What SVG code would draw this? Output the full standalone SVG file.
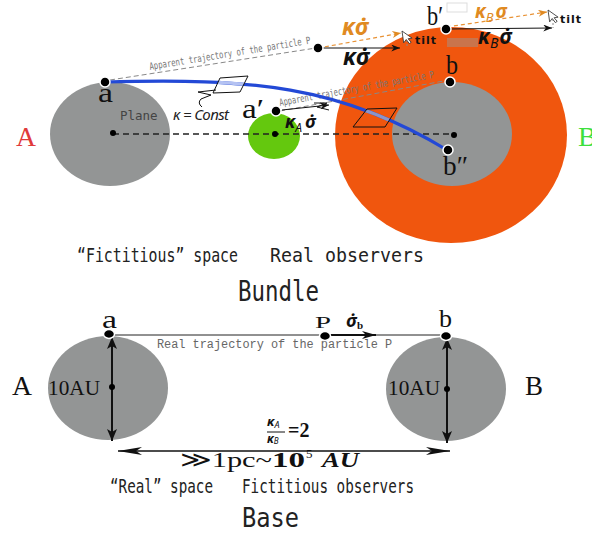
<svg xmlns="http://www.w3.org/2000/svg" width="592" height="535" viewBox="0 0 592 535">
<style>
.lbl{font-family:"Liberation Serif","DejaVu Serif",serif;fill:#111;}
.cap{font-family:"DejaVu Sans Mono","Liberation Mono",monospace;fill:#222;}
.math{font-family:"Noto Sans","DejaVu Sans",sans-serif;font-style:italic;font-weight:bold;fill:#111;}
.orange{fill:#e08a22;}
.dot{fill:#000;stroke:#fff;stroke-width:1.5;}
.cdot{fill:#000;}
.gray{fill:#939595;}
.app{font-family:"DejaVu Sans Mono","Liberation Mono",monospace;font-size:10px;fill:#777;}
.appline{stroke:#888;stroke-width:1;stroke-dasharray:5 3;fill:none;}
.odash{stroke:#e89235;stroke-width:1.2;stroke-dasharray:4 3;fill:none;}
.tiltv{stroke:#888;stroke-width:1;stroke-dasharray:2 2;}
.cursor{fill:#fff;stroke:#333;stroke-width:0.8;}
.tilt{font-family:"DejaVu Sans",sans-serif;font-weight:bold;font-size:11px;fill:#111;letter-spacing:1px;}
.thin{stroke:#111;stroke-width:1;fill:none;}
.para{fill:none;stroke:#111;stroke-width:1;}
</style>
<defs>
<marker id="ah" viewBox="0 0 10 8" refX="10" refY="4" markerWidth="10" markerHeight="7" markerUnits="userSpaceOnUse" orient="auto"><path d="M0,0 L10,4 L0,8 L3,4 z" fill="#111"/></marker>
<marker id="ahO" viewBox="0 0 10 8" refX="10" refY="4" markerWidth="10" markerHeight="7" markerUnits="userSpaceOnUse" orient="auto"><path d="M0,0 L10,4 L0,8 L3,4 z" fill="#e08a22"/></marker>
<marker id="big" viewBox="0 0 12 10" refX="12" refY="5" markerWidth="12" markerHeight="11" markerUnits="userSpaceOnUse" orient="auto-start-reverse"><path d="M0,0 L12,5 L0,10 L3,5 z" fill="#111"/></marker>
<marker id="mid" viewBox="0 0 14 8" refX="14" refY="4" markerWidth="15" markerHeight="8" markerUnits="userSpaceOnUse" orient="auto"><path d="M0,0 L14,4 L0,8 L4,4 z" fill="#111"/></marker>
<marker id="long" viewBox="0 0 24 8" refX="24" refY="4" markerWidth="24" markerHeight="8" markerUnits="userSpaceOnUse" orient="auto-start-reverse"><path d="M0,0 L24,4 L0,8 L6,4 z" fill="#111"/></marker>
<clipPath id="p1"><polygon points="220,78 248,76 240,92 213,93"/></clipPath>
<clipPath id="p2"><polygon points="367,109 397,108 385,127 353,127"/></clipPath>
</defs>

<!-- Bundle nodes -->
<g id="node-A-bundle">
<ellipse class="gray" cx="110" cy="134" rx="60" ry="52"/>
<text x="16" y="146" class="lbl" font-size="28" textLength="20" lengthAdjust="spacingAndGlyphs" style="fill:#e03a3a">A</text>
</g>
<g id="node-B-bundle">
<ellipse cx="451" cy="135" rx="116" ry="108" fill="#f0560e"/>
<ellipse class="gray" cx="452" cy="134" rx="60" ry="52"/>
<text x="578" y="146" class="lbl" font-size="28" style="fill:#3de03d">B</text>
</g>
<g id="node-observer">
<ellipse cx="274" cy="136" rx="26" ry="23" fill="#64c80e"/>
</g>

<!-- Base nodes -->
<g id="node-A-base">
<ellipse class="gray" cx="108" cy="388" rx="60" ry="52"/>
<text x="12" y="395" class="lbl" font-size="28" textLength="20" lengthAdjust="spacingAndGlyphs">A</text>
<text x="48" y="395" class="lbl" font-size="21" textLength="52" lengthAdjust="spacingAndGlyphs">10AU</text>
</g>
<g id="node-B-base">
<ellipse class="gray" cx="446" cy="389" rx="60" ry="52"/>
<text x="525" y="395" class="lbl" font-size="28" textLength="18" lengthAdjust="spacingAndGlyphs">B</text>
<text x="388" y="395" class="lbl" font-size="21" textLength="52" lengthAdjust="spacingAndGlyphs">10AU</text>
</g>

<!-- Connectors -->
<g id="connectors">
<line x1="113" y1="134" x2="455" y2="134" stroke="#222" stroke-width="1.3" stroke-dasharray="6 4"/>
<line class="appline" x1="110" y1="80" x2="316" y2="48"/>
<text class="app" transform="translate(150,70) rotate(-9.3)" textLength="163" lengthAdjust="spacingAndGlyphs">Apparent trajectory of the particle P</text>
<line class="appline" x1="280" y1="111" x2="449" y2="80"/>
<text class="app" transform="translate(280,106) rotate(-10.4)" textLength="157" lengthAdjust="spacingAndGlyphs">Apparent trajectory of the particle P</text>

<path d="M105,82 C250,78 340,85 447,150" fill="none" stroke="#2349d6" stroke-width="3.2"/>
<path d="M105,82 C250,78 340,85 447,150" fill="none" stroke="#b4c2f2" stroke-width="3.2" clip-path="url(#p1)"/>
<path d="M105,82 C250,78 340,85 447,150" fill="none" stroke="#8c95c8" stroke-width="3.2" clip-path="url(#p2)"/>
<polygon class="para" points="220,78 248,76 240,92 213,93"/>
<path class="thin" d="M216,90 L198,92 L211,95 L201,99 Q197,103 202,107"/>
<polygon class="para" points="367,109 397,108 385,127 353,127"/>

<line class="thin" x1="282" y1="110" x2="329" y2="105" marker-end="url(#ah)"/>
<path class="thin" d="M314,103 L327,103 L317,107 L329,110"/>

<line class="thin" x1="318" y1="48" x2="400" y2="48" marker-end="url(#ah)"/>
<line class="odash" x1="318" y1="48" x2="401" y2="33" marker-end="url(#ahO)"/>
<line class="tiltv" x1="407" y1="40" x2="407" y2="48"/>
<path class="cursor" transform="translate(402,31) rotate(-8)" d="M0,0 L0,12 L3,9 L5.5,13.5 L7.5,12.5 L5,8.5 L9,8.5 Z"/>
<text class="tilt" x="415" y="44">tilt</text>

<line class="thin" x1="447" y1="29" x2="552" y2="28" marker-end="url(#ah)"/>
<line class="odash" x1="447" y1="27" x2="547" y2="12" marker-end="url(#ahO)"/>
<line class="tiltv" x1="553" y1="19" x2="553" y2="28"/>
<path class="cursor" transform="translate(548,10) rotate(-8)" d="M0,0 L0,12 L3,9 L5.5,13.5 L7.5,12.5 L5,8.5 L9,8.5 Z"/>
<text class="tilt" x="560" y="23">tilt</text>
<rect x="447" y="3" width="20" height="9" fill="#fff" stroke="#ddd" stroke-width="1"/>
<rect x="447" y="38" width="31" height="9" fill="#999" opacity="0.45"/>

<!-- base connectors -->
<line x1="109" y1="335" x2="446" y2="335" stroke="#222" stroke-width="1"/>
<line x1="325" y1="335" x2="376" y2="335" stroke="#111" stroke-width="2" marker-end="url(#mid)"/>
<line x1="112" y1="337" x2="112" y2="441" stroke="#111" stroke-width="2" marker-start="url(#big)" marker-end="url(#big)"/>
<line x1="447" y1="338" x2="447" y2="443" stroke="#111" stroke-width="2" marker-start="url(#big)" marker-end="url(#big)"/>
<line x1="118" y1="451" x2="450" y2="451" stroke="#111" stroke-width="1.5" marker-start="url(#long)" marker-end="url(#long)"/>
<text x="157" y="348" font-family="Liberation Mono,monospace" font-size="12" fill="#666" textLength="235" lengthAdjust="spacingAndGlyphs">Real trajectory of the particle P</text>
</g>

<!-- points and labels (bundle) -->
<g id="pt-a">
<circle class="cdot" cx="113" cy="133" r="3"/>
<circle class="dot" cx="105" cy="82" r="5"/>
<text x="98" y="102" class="lbl" font-size="28" textLength="15" lengthAdjust="spacingAndGlyphs">a</text>
</g>
<g id="pt-a-prime">
<circle class="cdot" cx="275" cy="134" r="3"/>
<circle class="dot" cx="276" cy="111" r="5"/>
<text x="242" y="118" class="lbl" font-size="28" textLength="22" lengthAdjust="spacingAndGlyphs">a′</text>
</g>
<g id="pt-b">
<circle class="dot" cx="450" cy="82" r="5"/>
<text x="446" y="74" class="lbl" font-size="27" textLength="12" lengthAdjust="spacingAndGlyphs">b</text>
</g>
<g id="pt-b-prime">
<circle class="dot" cx="446" cy="29" r="5"/>
<text x="427" y="25" class="lbl" font-size="27" textLength="16" lengthAdjust="spacingAndGlyphs">b′</text>
</g>
<g id="pt-b-dprime">
<circle class="cdot" cx="454" cy="135" r="3"/>
<circle class="dot" cx="448" cy="150" r="5"/>
<text x="443" y="175" class="lbl" font-size="27" textLength="25" lengthAdjust="spacingAndGlyphs">b″</text>
</g>
<g id="pt-P-apparent">
<circle class="dot" cx="318" cy="48" r="5"/>
</g>

<g id="labels-bundle">
<text x="120" y="120" class="cap" font-size="12.5" style="fill:#444">Plane</text>
<text x="173" y="120" font-family="Noto Sans,DejaVu Sans,sans-serif" font-style="italic" font-size="15" fill="#222" textLength="56">κ = Const</text>
<text x="342" y="35" class="math orange" font-size="23">κσ̇</text>
<text x="343" y="65" class="math" font-size="23">κσ̇</text>
<text x="475" y="18" class="math orange" font-size="19">κ<tspan font-size="13" dy="4" font-weight="normal">B</tspan><tspan dy="-4" dx="2">σ</tspan></text>
<text x="478" y="44" class="math" font-size="21">κ<tspan font-size="14" dy="4" font-weight="normal">B</tspan><tspan dy="-4" dx="1">σ̇</tspan></text>
<text x="285" y="128" class="math" font-size="18">κ<tspan font-size="12" dy="4" font-weight="normal">A</tspan><tspan dy="-4" dx="3">σ̇</tspan></text>
<text x="77" y="262" class="cap" font-size="19" textLength="161" lengthAdjust="spacingAndGlyphs">“Fictitious” space</text>
<text x="270" y="262" class="cap" font-size="19" textLength="154" lengthAdjust="spacingAndGlyphs">Real observers</text>
<text x="238" y="301" class="cap" font-size="29" textLength="81" lengthAdjust="spacingAndGlyphs">Bundle</text>
</g>

<!-- points and labels (base) -->
<g id="pt-a-base">
<circle class="cdot" cx="112" cy="387" r="3"/>
<ellipse class="dot" cx="109" cy="334" rx="5.5" ry="4.5"/>
<text x="102" y="328" class="lbl" font-size="25" textLength="15" lengthAdjust="spacingAndGlyphs">a</text>
</g>
<g id="pt-P">
<ellipse class="dot" cx="325" cy="336" rx="5.5" ry="4.5"/>
<text x="315" y="328" class="lbl" font-size="17" textLength="16" lengthAdjust="spacingAndGlyphs">P</text>
<text x="346" y="327" class="math" font-size="18">σ̇<tspan font-size="11" dy="2" font-style="normal" font-family="Liberation Serif,serif">b</tspan></text>
</g>
<g id="pt-b-base">
<circle class="cdot" cx="447" cy="389" r="3"/>
<ellipse class="dot" cx="446" cy="336" rx="5.5" ry="4.5"/>
<text x="439" y="327" class="lbl" font-size="25" textLength="13" lengthAdjust="spacingAndGlyphs">b</text>
</g>
<g id="labels-base">
<text x="267" y="426" class="math" font-size="13">κ<tspan font-size="9" dy="2" font-weight="normal">A</tspan></text>
<line x1="267" y1="432" x2="285" y2="432" stroke="#111" stroke-width="1"/>
<text x="267" y="443" class="math" font-size="12">κ<tspan font-size="8" dy="1" font-weight="normal">B</tspan></text>
<text x="288" y="437" font-family="Liberation Serif,serif" font-weight="bold" font-size="20" fill="#111">=2</text>
<text x="180" y="467" class="lbl" font-size="22" textLength="92" lengthAdjust="spacingAndGlyphs">≫1pc~</text>
<text x="272" y="467" font-family="Liberation Serif,serif" font-weight="bold" font-size="20" fill="#111" textLength="33" lengthAdjust="spacingAndGlyphs">10</text>
<text x="306" y="458" font-family="Liberation Serif,serif" font-size="13" fill="#111">5</text>
<text x="322" y="467" font-family="Liberation Serif,serif" font-weight="bold" font-style="italic" font-size="20" fill="#111" textLength="37" lengthAdjust="spacingAndGlyphs">AU</text>
<text x="110" y="493" class="cap" font-size="19" textLength="103" lengthAdjust="spacingAndGlyphs">“Real” space</text>
<text x="242" y="493" class="cap" font-size="19" textLength="172" lengthAdjust="spacingAndGlyphs">Fictitious observers</text>
<text x="242" y="527" class="cap" font-size="27" textLength="57" lengthAdjust="spacingAndGlyphs">Base</text>
</g>
</svg>
